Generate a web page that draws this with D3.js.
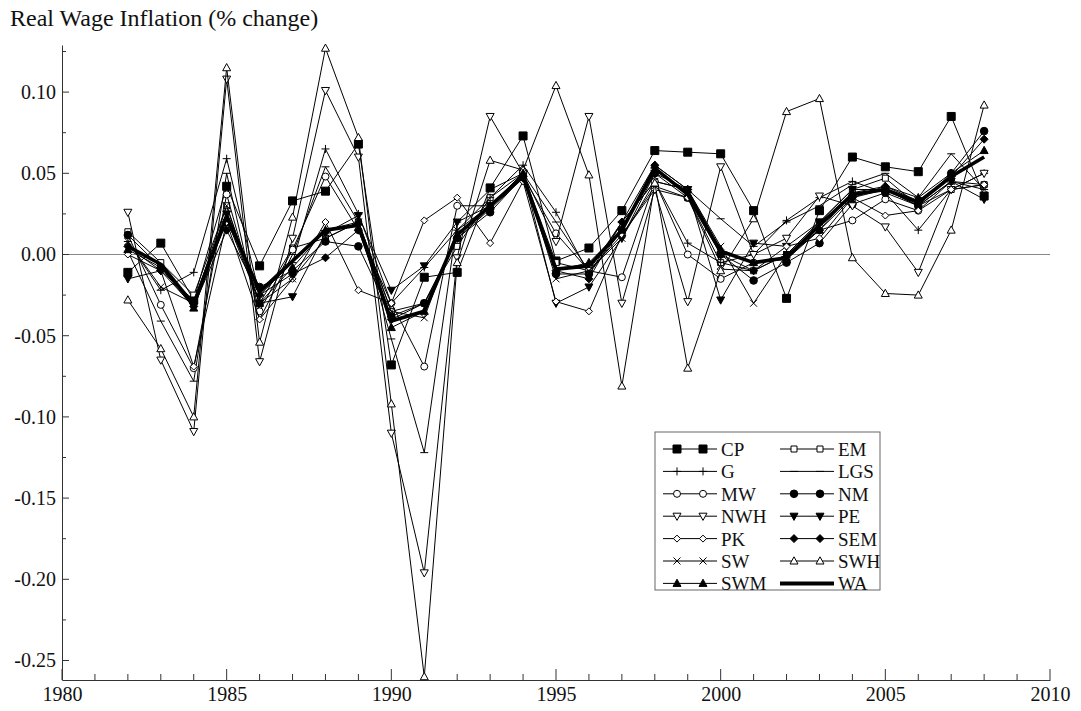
<!DOCTYPE html>
<html>
<head>
<meta charset="utf-8">
<script src="https://cdn.jsdelivr.net/npm/d3@7"></script>
<style>
  body { margin: 0; background: #fff; }
</style>
</head>
<body>
<div id="main"></div>
<script>
// years on x
const years = d3.range(1982, 2009);

// values by series (fraction change)
const CP  = [-0.011, 0.007, -0.028, 0.042, -0.007, 0.033, 0.039, 0.068, -0.068, -0.014, -0.011, 0.041, 0.073, -0.004, 0.004, 0.027, 0.064, 0.063, 0.062, 0.027, -0.027, 0.027, 0.060, 0.054, 0.051, 0.085, 0.036];
const EM  = [0.014, -0.005, -0.025, 0.030, -0.030, 0.004, 0.010, 0.020, -0.035, -0.030, 0.005, 0.035, 0.050, -0.005, -0.010, 0.012, 0.042, 0.035, -0.005, -0.010, 0.000, 0.020, 0.040, 0.047, 0.030, 0.040, 0.043];
const G   = [0.008, -0.022, -0.011, 0.059, -0.025, -0.005, 0.065, 0.025, -0.030, -0.008, 0.015, 0.035, 0.055, 0.026, -0.012, 0.020, 0.045, 0.007, -0.005, 0.000, 0.021, 0.035, 0.045, 0.038, 0.015, 0.040, 0.050];
const LGS = [0.002, -0.041, -0.078, 0.050, -0.040, 0.000, 0.054, 0.020, -0.052, -0.122, 0.020, 0.040, 0.050, 0.020, -0.010, 0.020, 0.045, 0.040, 0.022, 0.005, 0.020, 0.030, 0.043, 0.050, 0.035, 0.062, 0.040];
const MW  = [0.012, -0.031, -0.070, 0.037, -0.035, 0.003, 0.048, 0.015, -0.030, -0.069, 0.030, 0.030, 0.048, 0.013, -0.010, -0.014, 0.045, 0.000, -0.015, -0.005, -0.002, 0.015, 0.021, 0.034, 0.027, 0.045, 0.043];
const NM  = [0.012, -0.008, -0.030, 0.020, -0.020, -0.010, 0.008, 0.005, -0.038, -0.030, 0.010, 0.026, 0.048, -0.012, -0.012, 0.015, 0.050, 0.035, 0.000, -0.016, -0.005, 0.007, 0.031, 0.038, 0.030, 0.050, 0.076];
const NWH = [0.026, -0.065, -0.109, 0.108, -0.066, 0.010, 0.101, 0.060, -0.110, -0.196, -0.002, 0.085, 0.050, 0.008, 0.085, -0.030, 0.040, -0.029, 0.054, 0.000, 0.010, 0.036, 0.030, 0.017, -0.011, 0.040, 0.050];
const PE  = [-0.015, -0.010, -0.028, 0.025, -0.030, -0.026, 0.013, 0.024, -0.022, -0.007, 0.020, 0.030, 0.050, -0.030, -0.020, 0.010, 0.050, 0.040, -0.028, 0.007, 0.005, 0.020, 0.040, 0.040, 0.030, 0.045, 0.034];
const PK  = [0.000, -0.010, -0.069, 0.020, -0.040, -0.015, 0.020, -0.022, -0.030, 0.021, 0.035, 0.007, 0.045, -0.029, -0.035, 0.012, 0.040, 0.035, -0.009, -0.010, 0.005, 0.010, 0.035, 0.024, 0.027, 0.040, 0.043];
const SEM = [0.005, -0.010, -0.032, 0.015, -0.025, -0.012, -0.002, 0.015, -0.040, -0.030, 0.010, 0.028, 0.047, -0.010, -0.015, 0.020, 0.055, 0.040, 0.000, -0.010, 0.000, 0.015, 0.035, 0.042, 0.033, 0.048, 0.071];
const SW  = [0.008, -0.020, -0.030, 0.030, -0.030, -0.015, 0.010, 0.020, -0.035, -0.039, 0.015, 0.030, 0.050, -0.015, -0.010, 0.010, 0.045, 0.040, 0.005, -0.030, 0.000, 0.020, 0.035, 0.040, 0.030, 0.045, 0.040];
const SWH = [-0.028, -0.058, -0.100, 0.115, -0.054, 0.023, 0.127, 0.072, -0.092, -0.260, -0.005, 0.058, 0.052, 0.104, 0.049, -0.081, 0.044, -0.070, -0.010, 0.022, 0.088, 0.096, -0.002, -0.024, -0.025, 0.015, 0.092];
const SWM = [0.003, -0.008, -0.033, 0.022, -0.030, -0.008, 0.015, 0.020, -0.045, -0.035, 0.012, 0.030, 0.050, -0.010, -0.005, 0.015, 0.055, 0.040, 0.003, -0.005, -0.003, 0.015, 0.038, 0.042, 0.035, 0.050, 0.064];
const WA  = [0.005, -0.006, -0.031, 0.024, -0.023, -0.004, 0.015, 0.018, -0.041, -0.035, 0.012, 0.030, 0.048, -0.009, -0.007, 0.015, 0.053, 0.037, 0.002, -0.005, -0.002, 0.018, 0.037, 0.040, 0.032, 0.048, 0.060];

const seriesNames = ["CP", "EM", "G", "LGS", "MW", "NM", "NWH", "PE", "PK", "SEM", "SW", "SWH", "SWM", "WA"];
const seriesValues = [CP, EM, G, LGS, MW, NM, NWH, PE, PK, SEM, SW, SWH, SWM, WA];
const seriesMarkers = ["squareF", "squareO", "plus", "dash", "circleO", "circleF", "triDownO", "triDownF", "diamondO", "diamondF", "cross", "triUpO", "triUpF", "none"];

const yTickValues = [0.10, 0.05, 0.00, -0.05, -0.10, -0.15, -0.20, -0.25];
const yTickLabels = ["0.10", "0.05", "0.00", "-0.05", "-0.10", "-0.15", "-0.20", "-0.25"];
const xTickValues = [1980, 1985, 1990, 1995, 2000, 2005, 2010];

const W = 1081, H = 711;
const FONT = "Liberation Serif";
const svg = d3.select("#main").append("svg").attr("width", W).attr("height", H)
  .attr("font-family", FONT);

const x = d3.scaleLinear().domain([1980, 2010]).range([62, 1050]);
const y = d3.scaleLinear().domain([-0.262, 0.129]).range([680, 45]);

// marker shapes
function markerPath(t) {
  switch (t) {
    case "squareF": return "M-4,-4h8v8h-8Z";
    case "squareO": return "M-3,-3h6v6h-6Z";
    case "circleO": return "M3.5,0A3.5,3.5 0 1,1 -3.5,0A3.5,3.5 0 1,1 3.5,0Z";
    case "circleF": return "M3.8,0A3.8,3.8 0 1,1 -3.8,0A3.8,3.8 0 1,1 3.8,0Z";
    case "triUpO":
    case "triUpF": return "M0,-4.2L4,3L-4,3Z";
    case "triDownO":
    case "triDownF": return "M0,4.2L4,-3L-4,-3Z";
    case "diamondO": return "M0,-3.5L3.5,0L0,3.5L-3.5,0Z";
    case "diamondF": return "M0,-4L4,0L0,4L-4,0Z";
    case "plus": return "M-4,0H4M0,-4V4";
    case "cross": return "M-3.5,-3.5L3.5,3.5M-3.5,3.5L3.5,-3.5";
    case "dash": return "M-4,0H4";
  }
  return "";
}
const filled = t => t.endsWith("F");
const markerFill = t => filled(t) ? "#000" : (t === "plus" || t === "cross" || t === "dash" ? "none" : "#fff");

// zero line
svg.append("line")
  .attr("x1", x(1980)).attr("x2", x(2010))
  .attr("y1", y(0)).attr("y2", y(0))
  .attr("stroke", "#888").attr("stroke-width", 1);

// axes
const yAxis = d3.axisLeft(y).tickValues(yTickValues).tickSize(0)
  .tickFormat((d, i) => yTickLabels[i]).tickPadding(6);
const gy = svg.append("g").attr("transform", `translate(${x(1980)},0)`).call(yAxis);
gy.attr("font-family", FONT);
gy.select(".domain").attr("stroke", "#333");
gy.selectAll("text").attr("font-size", 20).attr("fill", "#111");
// inward ticks
gy.selectAll(".mj").data(d3.range(-0.25, 0.13, 0.05)).enter().append("line")
  .attr("x1", 0).attr("x2", 7).attr("y1", d => y(d)).attr("y2", d => y(d)).attr("stroke", "#333");
gy.selectAll(".mn").data(d3.range(-0.225, 0.13, 0.05)).enter().append("line")
  .attr("x1", 0).attr("x2", 4).attr("y1", d => y(d)).attr("y2", d => y(d)).attr("stroke", "#333");

const xAxis = d3.axisBottom(x).tickValues(xTickValues).tickSize(0)
  .tickFormat(d3.format("d")).tickPadding(7);
const gx = svg.append("g").attr("transform", `translate(0,${y.range()[0]})`).call(xAxis);
gx.attr("font-family", FONT);
gx.select(".domain").attr("stroke", "#333");
gx.selectAll("text").attr("font-size", 20).attr("fill", "#111");
gx.selectAll(".yt").data(d3.range(1980, 2011)).enter().append("line")
  .attr("x1", d => x(d)).attr("x2", d => x(d))
  .attr("y1", 0).attr("y2", d => d % 5 === 0 ? -11 : -6).attr("stroke", "#333");

// title
svg.append("text").attr("x", 10).attr("y", 26)
  .attr("font-size", 24).attr("fill", "#111")
  .text("Real Wage Inflation (% change)");

// series lines and markers
const line = d3.line().x((d, i) => x(years[i])).y(d => y(d));
const plot = svg.append("g");
seriesNames.forEach((name, k) => {
  const vals = seriesValues[k];
  const isWA = name === "WA";
  const g = plot.append("g").attr("class", "series-" + name);
  g.append("path").attr("d", line(vals))
    .attr("fill", "none").attr("stroke", "#000")
    .attr("stroke-width", isWA ? 3.6 : 1)
    .attr("stroke-linejoin", "round");
  const mt = seriesMarkers[k];
  if (mt !== "none") {
    g.selectAll("path.m").data(vals).enter().append("path").attr("class", "m")
      .attr("transform", (d, i) => `translate(${x(years[i])},${y(d)})`)
      .attr("d", markerPath(mt))
      .attr("fill", markerFill(mt))
      .attr("stroke", "#000").attr("stroke-width", 1);
  }
});

// legend
const lg = svg.append("g").attr("transform", "translate(655,432)");
lg.append("rect").attr("width", 225).attr("height", 158)
  .attr("fill", "#fff").attr("stroke", "#666").attr("stroke-width", 1);
seriesNames.forEach((name, k) => {
  const col = k % 2, row = Math.floor(k / 2);
  const ox = col === 0 ? 8 : 125, oy = 17 + row * 22.4;
  const it = lg.append("g").attr("transform", `translate(${ox},${oy})`);
  it.append("line").attr("x1", 0).attr("x2", 54).attr("y1", 0).attr("y2", 0)
    .attr("stroke", "#000").attr("stroke-width", name === "WA" ? 4 : 1);
  const mt = seriesMarkers[k];
  if (mt !== "none") {
    [14, 40].forEach(px => {
      it.append("path").attr("transform", `translate(${px},0)`).attr("d", markerPath(mt))
        .attr("fill", markerFill(mt))
        .attr("stroke", "#000").attr("stroke-width", 1);
    });
  }
  it.append("text").attr("x", 58).attr("y", 7).attr("font-size", 19).attr("fill", "#111").text(name);
});
</script>
</body>
</html>
